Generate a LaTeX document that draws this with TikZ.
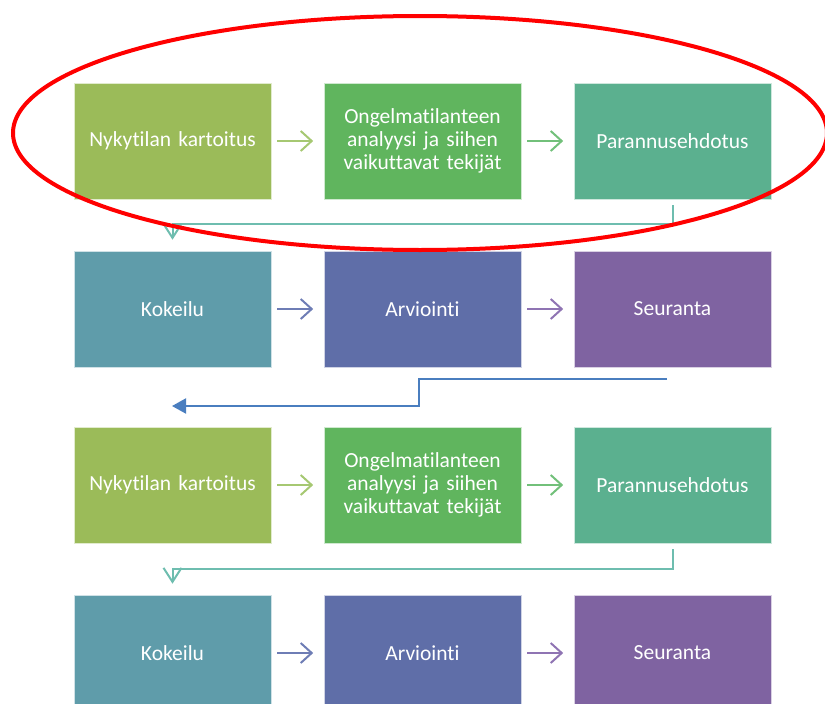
\documentclass[tikz,border=0pt]{standalone}
\usepackage{fontspec}
\setmainfont{Carlito}[Ligatures=NoCommon]
\usetikzlibrary{arrows.meta}
\definecolor{cA}{HTML}{9BBB59}
\definecolor{cB}{HTML}{60B55E}
\definecolor{cC}{HTML}{5BB08F}
\definecolor{cD}{HTML}{5F9CAA}
\definecolor{cE}{HTML}{5F6EA8}
\definecolor{cF}{HTML}{7F63A1}
\definecolor{aA}{HTML}{A6C872}
\definecolor{aB}{HTML}{72C07A}
\definecolor{aD}{HTML}{6E7DB5}
\definecolor{aE}{HTML}{8F74B3}
\definecolor{tealln}{HTML}{6EBDAF}
\definecolor{blueln}{HTML}{4A7EBF}
\tikzset{
  stepbox/.style={rectangle, fill=#1, draw=white!70!#1, line width=0.6pt,
    minimum width=197pt, minimum height=116pt, inner sep=0pt,
    text=white, text width=190pt, align=center,
    font=\fontsize{21.5}{23}\selectfont},
  flowarr/.style={draw=#1, line width=2pt, shorten <=6pt, shorten >=10.5pt,
    -{Straight Barb[length=11pt,width=20pt,line width=2pt]}},
  turnarr/.style={draw=tealln, line width=2pt,
    -{Straight Barb[length=14pt,width=18pt,line width=2pt]}},
  backarr/.style={draw=blueln, line width=2pt, -{Triangle[length=14pt,width=15pt]}}
}
\begin{document}
\begin{tikzpicture}[x=1pt,y=-1pt]
\useasboundingbox (0,0) rectangle (825,704);
\clip (0,0) rectangle (825,704);
% first cycle
\node[stepbox=cA] (n1) at (172.5,141) {Nykytilan kartoitus};
\node[stepbox=cB] (o1) at (422.5,141) {Ongelmatilanteen\\ analyysi ja siihen\\ vaikuttavat tekijät};
\node[stepbox=cC] (p1) at (672.5,141) {Parannusehdotus};
\node[stepbox=cD] (k1) at (172.5,309) {Kokeilu};
\node[stepbox=cE] (a1) at (422.5,309) {Arviointi};
\node[stepbox=cF] (s1) at (672.5,309) {Seuranta};
% second cycle
\node[stepbox=cA] (n2) at (172.5,485) {Nykytilan kartoitus};
\node[stepbox=cB] (o2) at (422.5,485) {Ongelmatilanteen\\ analyysi ja siihen\\ vaikuttavat tekijät};
\node[stepbox=cC] (p2) at (672.5,485) {Parannusehdotus};
\node[stepbox=cD] (k2) at (172.5,653) {Kokeilu};
\node[stepbox=cE] (a2) at (422.5,653) {Arviointi};
\node[stepbox=cF] (s2) at (672.5,653) {Seuranta};
% arrows within rows
\draw[flowarr=aA] (n1) -- (o1);
\draw[flowarr=aB] (o1) -- (p1);
\draw[flowarr=aD] (k1) -- (a1);
\draw[flowarr=aE] (a1) -- (s1);
\draw[flowarr=aA] (n2) -- (o2);
\draw[flowarr=aB] (o2) -- (p2);
\draw[flowarr=aD] (k2) -- (a2);
\draw[flowarr=aE] (a2) -- (s2);
% row turns
\draw[turnarr, shorten <=6pt, shorten >=11pt] (p1.south) -- ++(0,25) -| (k1.north);
\draw[turnarr, shorten <=6pt, shorten >=11pt] (p2.south) -- ++(0,26) -| (k2.north);
% return to the second cycle
\coordinate (b0) at (667,379);
\coordinate (bm) at (419,379);
\coordinate (b1) at (172,406);
\draw[backarr] (b0) -- (bm) |- (b1);
% highlight of the first row
\draw[red, line width=4pt] (420,133) ellipse [x radius=407, y radius=117];
\end{tikzpicture}
\end{document}
